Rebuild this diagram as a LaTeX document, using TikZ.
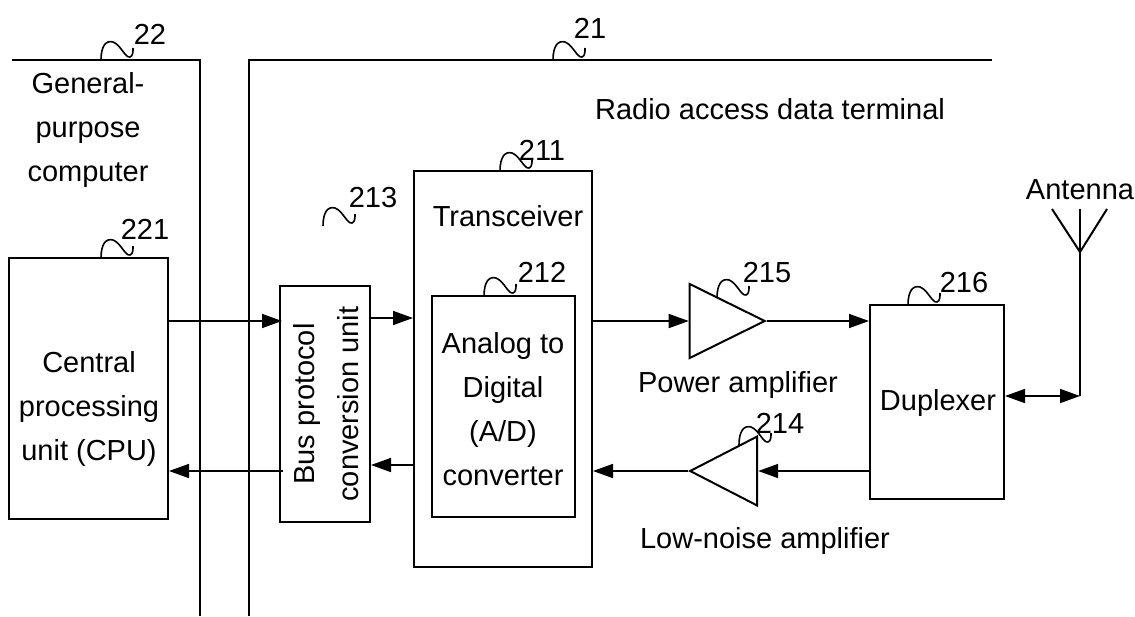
\documentclass[tikz,border=0pt]{standalone}
\usepackage{fontspec}
\setmainfont{Liberation Sans}
\usetikzlibrary{arrows.meta,shapes.geometric}
\tikzset{
    block/.style={draw,rectangle,line width=1pt,inner sep=0pt,align=center},
    amp/.style={draw,isosceles triangle,line width=1pt,inner sep=0pt,anchor=apex},
    sig/.style={line width=0.8pt,-{Triangle[length=10pt,width=7pt]}},
    frameline/.style={line width=1pt},
    lead/.style={line width=0.8pt},
    txt/.style={align=center,inner sep=0pt}
}
\begin{document}
\begin{tikzpicture}[x=0.5pt,y=-0.5pt,font=\fontsize{14.5}{22}\selectfont]
    \useasboundingbox (0,0) rectangle (1135,616);

    % signal rows
    \coordinate (rowtop) at (0,321);
    \coordinate (rowlow) at (0,471);

    % frames
    \coordinate (F22a) at (12,60);
    \coordinate (F22b) at (200,60);
    \coordinate (F22c) at (200,616);
    \coordinate (F21a) at (249,616);
    \coordinate (F21b) at (249,60);
    \coordinate (F21c) at (992,60);
    \draw[frameline] (F22a) -- (F22b) -- (F22c);
    \draw[frameline] (F21a) -- (F21b) -- (F21c);

    % blocks
    \node[block,minimum width=79.5pt,minimum height=130.5pt] (CPU) at (88.5,388.5) {};
    \node[block,minimum width=45pt,minimum height=118pt] (BUS) at (325,404) {};
    \node[block,minimum width=89pt,minimum height=198pt] (TRX) at (503,369) {};
    \node[block,minimum width=71.5pt,minimum height=110.5pt] (ADC) at (503.5,406.5) {};
    \node[block,minimum width=67pt,minimum height=97pt] (DUP) at (937,402) {};

    % amplifiers
    \node[amp,minimum height=37.5pt,isosceles triangle apex angle=52.5] (PA) at (767,321) {};
    \node[amp,minimum height=33.5pt,isosceles triangle apex angle=54.5,shape border rotate=180] (LNA) at (688,471) {};

    % texts
    \node[txt] (Tgen) at (88,130) {General-\\purpose\\computer};
    \node[txt] (Tcpu) at (89,409) {Central\\processing\\unit (CPU)};
    \node[txt,rotate=90] (Tbus) at (326,404) {Bus protocol\\conversion unit};
    \node[txt] (Tadc) at (503,409) {Analog to\\Digital\\(A/D)\\converter};
    \node[txt] (Tdup) at (938,403) {Duplexer};
    \node[txt] (Ttrx) at (508,216) {Transceiver};
    \node[txt] (Tradio) at (770,109) {Radio access data terminal};
    \node[txt] (Tpa) at (738,385) {Power amplifier};
    \node[txt] (Tlna) at (765,541) {Low-noise amplifier};
    \node[txt] (Tant) at (1080,190) {Antenna};

    % connectors
    \draw[sig,shorten >=-1.5pt] (CPU.east |- rowtop) -- (BUS.west |- rowtop);
    \draw[sig] (BUS.east |- 0,318) -- (TRX.west |- 0,318);
    \draw[sig] (TRX.east |- rowtop) -- (PA.lower side);
    \draw[sig] (PA.apex) -- (DUP.west |- rowtop);
    \draw[sig] (DUP.west |- rowlow) -- (LNA.lower side);
    \draw[sig] (LNA.apex) -- (TRX.east |- rowlow);
    \draw[sig] (TRX.west |- 0,465) -- (BUS.east |- 0,465);
    \draw[sig,shorten <=-2pt] (BUS.west |- rowlow) -- (CPU.east |- rowlow);

    % antenna
    \coordinate (feed) at (1080,396);
    \coordinate (mast) at (1080,252);
    \coordinate (armM) at (1080,209);
    \coordinate (armL) at (1052,209);
    \coordinate (armR) at (1107,209);
    \draw[frameline] (feed) -- (armM);
    \draw[frameline] (armL) -- (mast) -- (armR);
    \draw[sig,{Triangle[length=10pt,width=7pt]}-{Triangle[length=10pt,width=7pt]}] (DUP.east |- feed) -- (feed);

    % reference numbers
    \foreach \num/\sx/\sy/\lx/\ly in {22/101/60/150/34,21/553/60/590/28,221/101/258/145/229,
        213/323/226/373/198,211/500/171/542/150,212/484/296/542/272,
        215/717/298/767/273,216/908/305/964/283,214/739/445/780/423}
    {
        \draw[lead,shift={(\sx,\sy)}] (0,0) .. controls (0,-14) and (5,-20) .. (12,-18)
            .. controls (20,-15) and (24,-2) .. (29,-3) .. controls (32,-4) and (32,-8) .. (32,-12);
        \node[txt] (R\num) at (\lx,\ly) {\num};
    }
\end{tikzpicture}
\end{document}
